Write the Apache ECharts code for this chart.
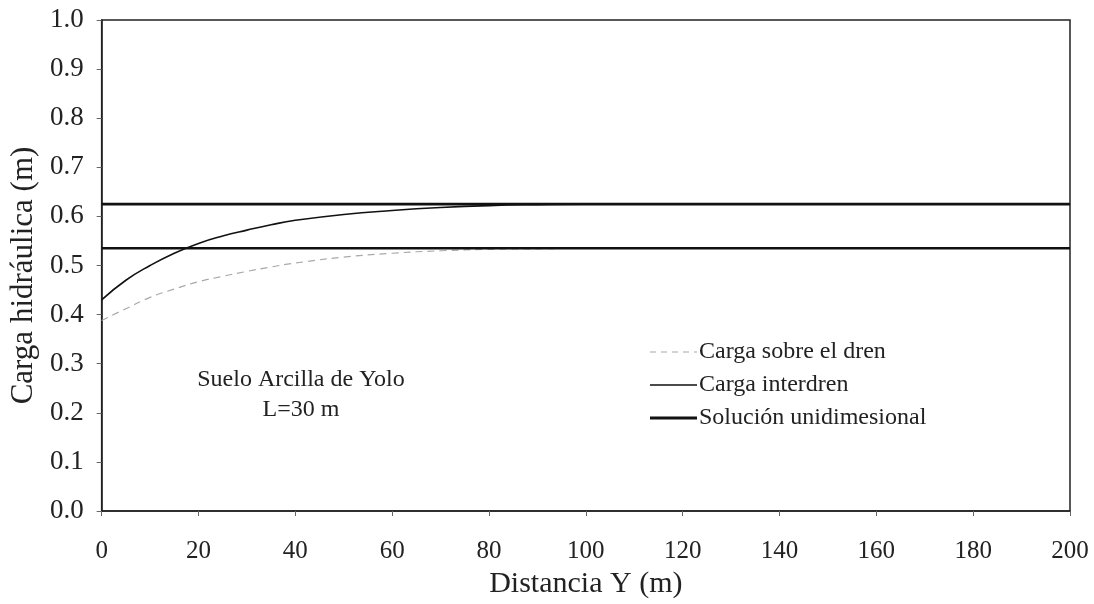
<!DOCTYPE html>
<html>
<head>
<meta charset="utf-8">
<script src="https://cdn.jsdelivr.net/npm/echarts@6/dist/echarts.min.js"></script>
<style>html,body{margin:0;padding:0;background:#fff}#c{width:1094px;height:604px}</style>
</head>
<body>
<div id="c"></div>
<script>
// Data
var xDist     = [0, 5, 10, 15, 20, 25, 30, 35, 40, 50, 60, 70, 80, 90, 100, 120, 140, 160, 180, 200];
var interdren = [0.430, 0.470, 0.500, 0.525, 0.545, 0.560, 0.572, 0.583, 0.592, 0.604, 0.612, 0.618, 0.622, 0.624, 0.625, 0.625, 0.625, 0.625, 0.625, 0.625];
var dren      = [0.388, 0.412, 0.435, 0.452, 0.467, 0.478, 0.488, 0.497, 0.505, 0.517, 0.525, 0.530, 0.533, 0.534, 0.535, 0.535, 0.535, 0.535, 0.535, 0.535];
var unidimLevels = [0.625, 0.535];
var xRange = [0, 200];
var seriesNames = ['Carga sobre el dren', 'Carga interdren', 'Solución unidimesional'];
var annotation = ['Suelo Arcilla de Yolo', 'L=30 m'];

function pairs(xs, ys) { return xs.map(function (x, i) { return [x, ys[i]]; }); }

var font = 'Liberation Serif';
var chart = echarts.init(document.getElementById('c'), null, {renderer: 'canvas'});

var series = [
  {
    name: seriesNames[0], type: 'line', data: pairs(xDist, dren), smooth: true,
    showSymbol: false, symbol: 'none', color: '#a8a8a8',
    lineStyle: {color: '#a8a8a8', width: 1.2, type: [7, 5]}, z: 3
  },
  {
    name: seriesNames[1], type: 'line', data: pairs(xDist, interdren), smooth: true,
    showSymbol: false, symbol: 'none', color: '#111',
    lineStyle: {color: '#111', width: 1.6}, z: 4
  }
];
unidimLevels.forEach(function (lvl) {
  series.push({
    name: seriesNames[2], type: 'line', data: xRange.map(function (x) { return [x, lvl]; }),
    showSymbol: false, symbol: 'none', color: '#111',
    lineStyle: {color: '#111', width: 2.6}, z: 5
  });
});

// legend sample glyphs, each with a 47x3 bounding box (dashed thin, solid thin, solid thick)
var iconDashed = 'path://M0,0h0.01v0.001z M0,0.9h6v1.2h-6z M11,0.9h6v1.2h-6z M22,0.9h6v1.2h-6z M33,0.9h6v1.2h-6z M44,0.9h3v1.2h-3z M0,3h0.01v-0.001z';
var iconThin = 'path://M0,0h0.01v0.001z M0,0.75h47v1.5h-47z M0,3h0.01v-0.001z';
var iconThick = 'path://M0,0h47v3h-47z';

chart.setOption({
  animation: false,
  backgroundColor: '#fff',
  grid: {left: 101, right: 24, top: 20, bottom: 93, show: true, borderColor: '#222', borderWidth: 1.5},
  xAxis: {
    type: 'value', min: 0, max: 200, interval: 20,
    name: 'Distancia Y (m)', nameLocation: 'middle', nameGap: 58,
    nameTextStyle: {fontFamily: font, fontSize: 30, color: '#222'},
    axisLine: {lineStyle: {color: '#222', width: 1.5}},
    axisTick: {show: true, inside: false, length: 5, lineStyle: {color: '#666'}},
    axisLabel: {fontFamily: font, fontSize: 25, color: '#222', margin: 28},
    splitLine: {show: false}
  },
  yAxis: {
    type: 'value', min: 0, max: 1, interval: 0.1,
    name: 'Carga hidráulica (m)', nameLocation: 'middle', nameGap: 60,
    nameTextStyle: {fontFamily: font, fontSize: 31, color: '#222', padding: [0, 20, 0, 0]},
    axisLine: {lineStyle: {color: '#222', width: 1.5}},
    axisTick: {show: true, inside: false, length: 5, lineStyle: {color: '#666'}},
    axisLabel: {fontFamily: font, fontSize: 27, color: '#222', margin: 18,
      formatter: function (v) { return v.toFixed(1); }},
    splitLine: {show: false}
  },
  legend: {
    data: [
      {name: seriesNames[0], icon: iconDashed},
      {name: seriesNames[1], icon: iconThin},
      {name: seriesNames[2], icon: iconThick}
    ],
    orient: 'vertical', left: 645, top: 335,
    itemWidth: 47, itemHeight: 3, itemGap: 9,
    textStyle: {fontFamily: font, fontSize: 24, color: '#222', padding: [0, 0, 0, -3]},
    selectedMode: false
  },
  graphic: [
    {type: 'text', x: 301, y: 380, style: {text: annotation[0], font: '24px "Liberation Serif"', fill: '#222', textAlign: 'center', textVerticalAlign: 'middle'}},
    {type: 'text', x: 301, y: 410, style: {text: annotation[1], font: '24px "Liberation Serif"', fill: '#222', textAlign: 'center', textVerticalAlign: 'middle'}}
  ],
  series: series
});
</script>
</body>
</html>
